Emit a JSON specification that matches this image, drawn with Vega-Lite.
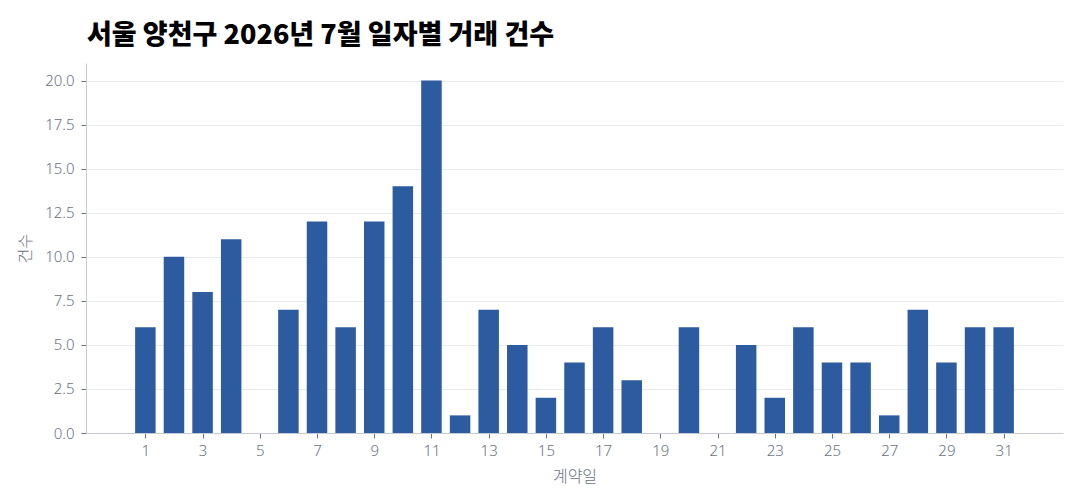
{
  "$schema": "https://vega.github.io/schema/vega-lite/v6.json",
  "autosize": "none",
  "width": 977,
  "height": 370,
  "padding": {"left": 86, "top": 63, "right": 17, "bottom": 71},
  "background": "white",
  "title": {
    "text": "서울 양천구 2026년 7월 일자별 거래 건수",
    "anchor": "start",
    "frame": "group",
    "font": "Noto Sans CJK KR",
    "fontSize": 27,
    "fontWeight": 900,
    "color": "#000000",
    "offset": 13,
    "dx": 1
  },
  "data": {
    "values": [
      {"day": 1, "count": 6}, {"day": 2, "count": 10}, {"day": 3, "count": 8},
      {"day": 4, "count": 11}, {"day": 6, "count": 7}, {"day": 7, "count": 12},
      {"day": 8, "count": 6}, {"day": 9, "count": 12}, {"day": 10, "count": 14},
      {"day": 11, "count": 20}, {"day": 12, "count": 1}, {"day": 13, "count": 7},
      {"day": 14, "count": 5}, {"day": 15, "count": 2}, {"day": 16, "count": 4},
      {"day": 17, "count": 6}, {"day": 18, "count": 3}, {"day": 20, "count": 6},
      {"day": 22, "count": 5}, {"day": 23, "count": 2}, {"day": 24, "count": 6},
      {"day": 25, "count": 4}, {"day": 26, "count": 4}, {"day": 27, "count": 1},
      {"day": 28, "count": 7}, {"day": 29, "count": 4}, {"day": 30, "count": 6},
      {"day": 31, "count": 6}
    ]
  },
  "mark": {"type": "bar", "color": "#2c5ba0", "size": 20.5},
  "encoding": {
    "x": {
      "field": "day",
      "type": "quantitative",
      "title": "계약일",
      "scale": {"domain": [-0.9, 32.9], "nice": false, "zero": false},
      "axis": {
        "values": [1, 3, 5, 7, 9, 11, 13, 15, 17, 19, 21, 23, 25, 27, 29, 31],
        "grid": false,
        "domainColor": "#c5cad3",
        "tickColor": "#6b7280",
        "tickSize": 5,
        "labelPadding": 5,
        "titlePadding": 10
      }
    },
    "y": {
      "field": "count",
      "type": "quantitative",
      "title": "건수",
      "scale": {"domain": [0, 21], "nice": false},
      "axis": {
        "values": [0, 2.5, 5, 7.5, 10, 12.5, 15, 17.5, 20],
        "format": ".1f",
        "gridColor": "#e9ebef",
        "domainColor": "#c5cad3",
        "tickColor": "#6b7280",
        "tickSize": 5,
        "labelPadding": 7,
        "titlePadding": 11
      }
    }
  },
  "config": {
    "view": {"stroke": null},
    "axis": {
      "labelFont": "Noto Sans",
      "labelFontSize": 15,
      "labelFontWeight": 300,
      "labelColor": "#6b7280",
      "titleFont": "Noto Sans CJK KR",
      "titleFontSize": 16,
      "titleFontWeight": 300,
      "titleColor": "#6b7280"
    }
  }
}
